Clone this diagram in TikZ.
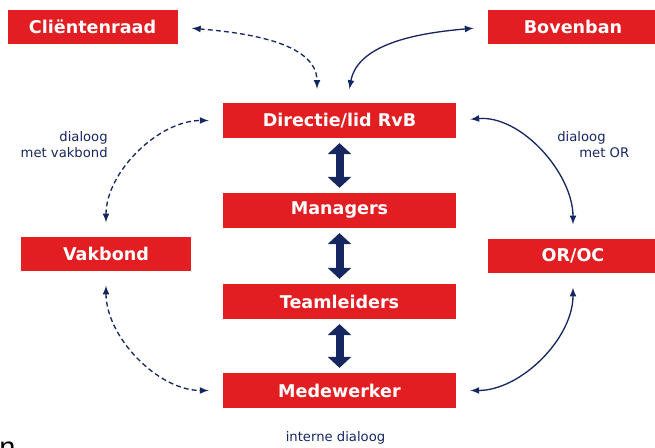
\documentclass[tikz,border=0pt]{standalone}
\usepackage{fontspec}
\setmainfont{DejaVu Sans}
\newfontfamily\restfont{Liberation Sans}
\usepackage{tikz}
\usetikzlibrary{arrows.meta}

\definecolor{boxred}{RGB}{226,30,34}
\definecolor{navy}{RGB}{22,38,96}

\begin{document}
\begin{tikzpicture}[
        box/.style={fill=boxred, text=white, font=\bfseries\fontsize{10}{12}\selectfont,
                    inner sep=0pt, minimum height=.69cm},
        midbox/.style={box, minimum width=4.66cm},
        sidebox/.style={box, minimum width=3.4cm},
        dialoog/.style={latex-latex, navy, line width=.75pt, shorten >=.28cm, shorten <=.28cm},
        losdialoog/.style={dialoog, dash pattern=on 2.8pt off 1.8pt},
        lijn/.style={{Triangle[length=.22cm,width=.46cm]}-{Triangle[length=.22cm,width=.46cm]},
                    navy, line width=.16cm, shorten >=.1cm, shorten <=.1cm},
        tekst/.style={navy, font=\fontsize{7.5}{9}\selectfont, inner sep=0pt}
    ]
        \useasboundingbox (0,0) rectangle (13.1,8.96);

        % hierarchie in het midden
        \node[midbox] (directie)   at (6.79,6.55) {Directie/lid RvB};
        \node[midbox] (managers)   at (6.79,4.75) {Managers};
        \node[midbox] (teamleiders) at (6.79,2.93) {Teamleiders};
        \node[midbox] (medewerker) at (6.79,1.15) {Medewerker};

        \draw[lijn] (directie) -- (managers);
        \draw[lijn] (managers) -- (teamleiders);
        \draw[lijn] (teamleiders) -- (medewerker);

        % partijen rondom
        \node[sidebox] (clientenraad) at (1.85,8.42) {Cliëntenraad};
        \node[sidebox] (bovenban)     at (11.46,8.42) {Bovenban};
        \node[sidebox] (vakbond)      at (2.12,3.88) {Vakbond};
        \node[sidebox] (oroc)         at (11.46,3.84) {OR/OC};

        \draw[losdialoog] (clientenraad.east) to[out=-5,in=90] ([xshift=-.45cm]directie.north);
        \draw[dialoog] (bovenban.west) to[out=185,in=80] ([xshift=.15cm]directie.north);
        \draw[dialoog] (directie.east) to[out=5,in=90] (oroc.north);
        \draw[dialoog] (oroc.south) to[out=-90,in=0] (medewerker.east);
        \draw[losdialoog] (vakbond.north) to[out=90,in=180] (directie.west);
        \draw[losdialoog] (vakbond.south) to[out=-90,in=180] (medewerker.west);

        % bijschriften
        \node[tekst, align=right, anchor=east] (lblvakbond) at (2.16,6.07) {dialoog\\met vakbond};
        \node[tekst, align=left, anchor=west] (lblor) at (11.14,6.07) {dialoog\\\hspace*{.44cm}met OR};
        \node[tekst] (lblintern) at (6.71,0.2) {interne dialoog};

        \node[font=\restfont\fontsize{16.5}{18}\selectfont, anchor=base west, inner sep=0pt]
            (rest) at (-0.02,-0.2) {n};
\end{tikzpicture}
\end{document}
